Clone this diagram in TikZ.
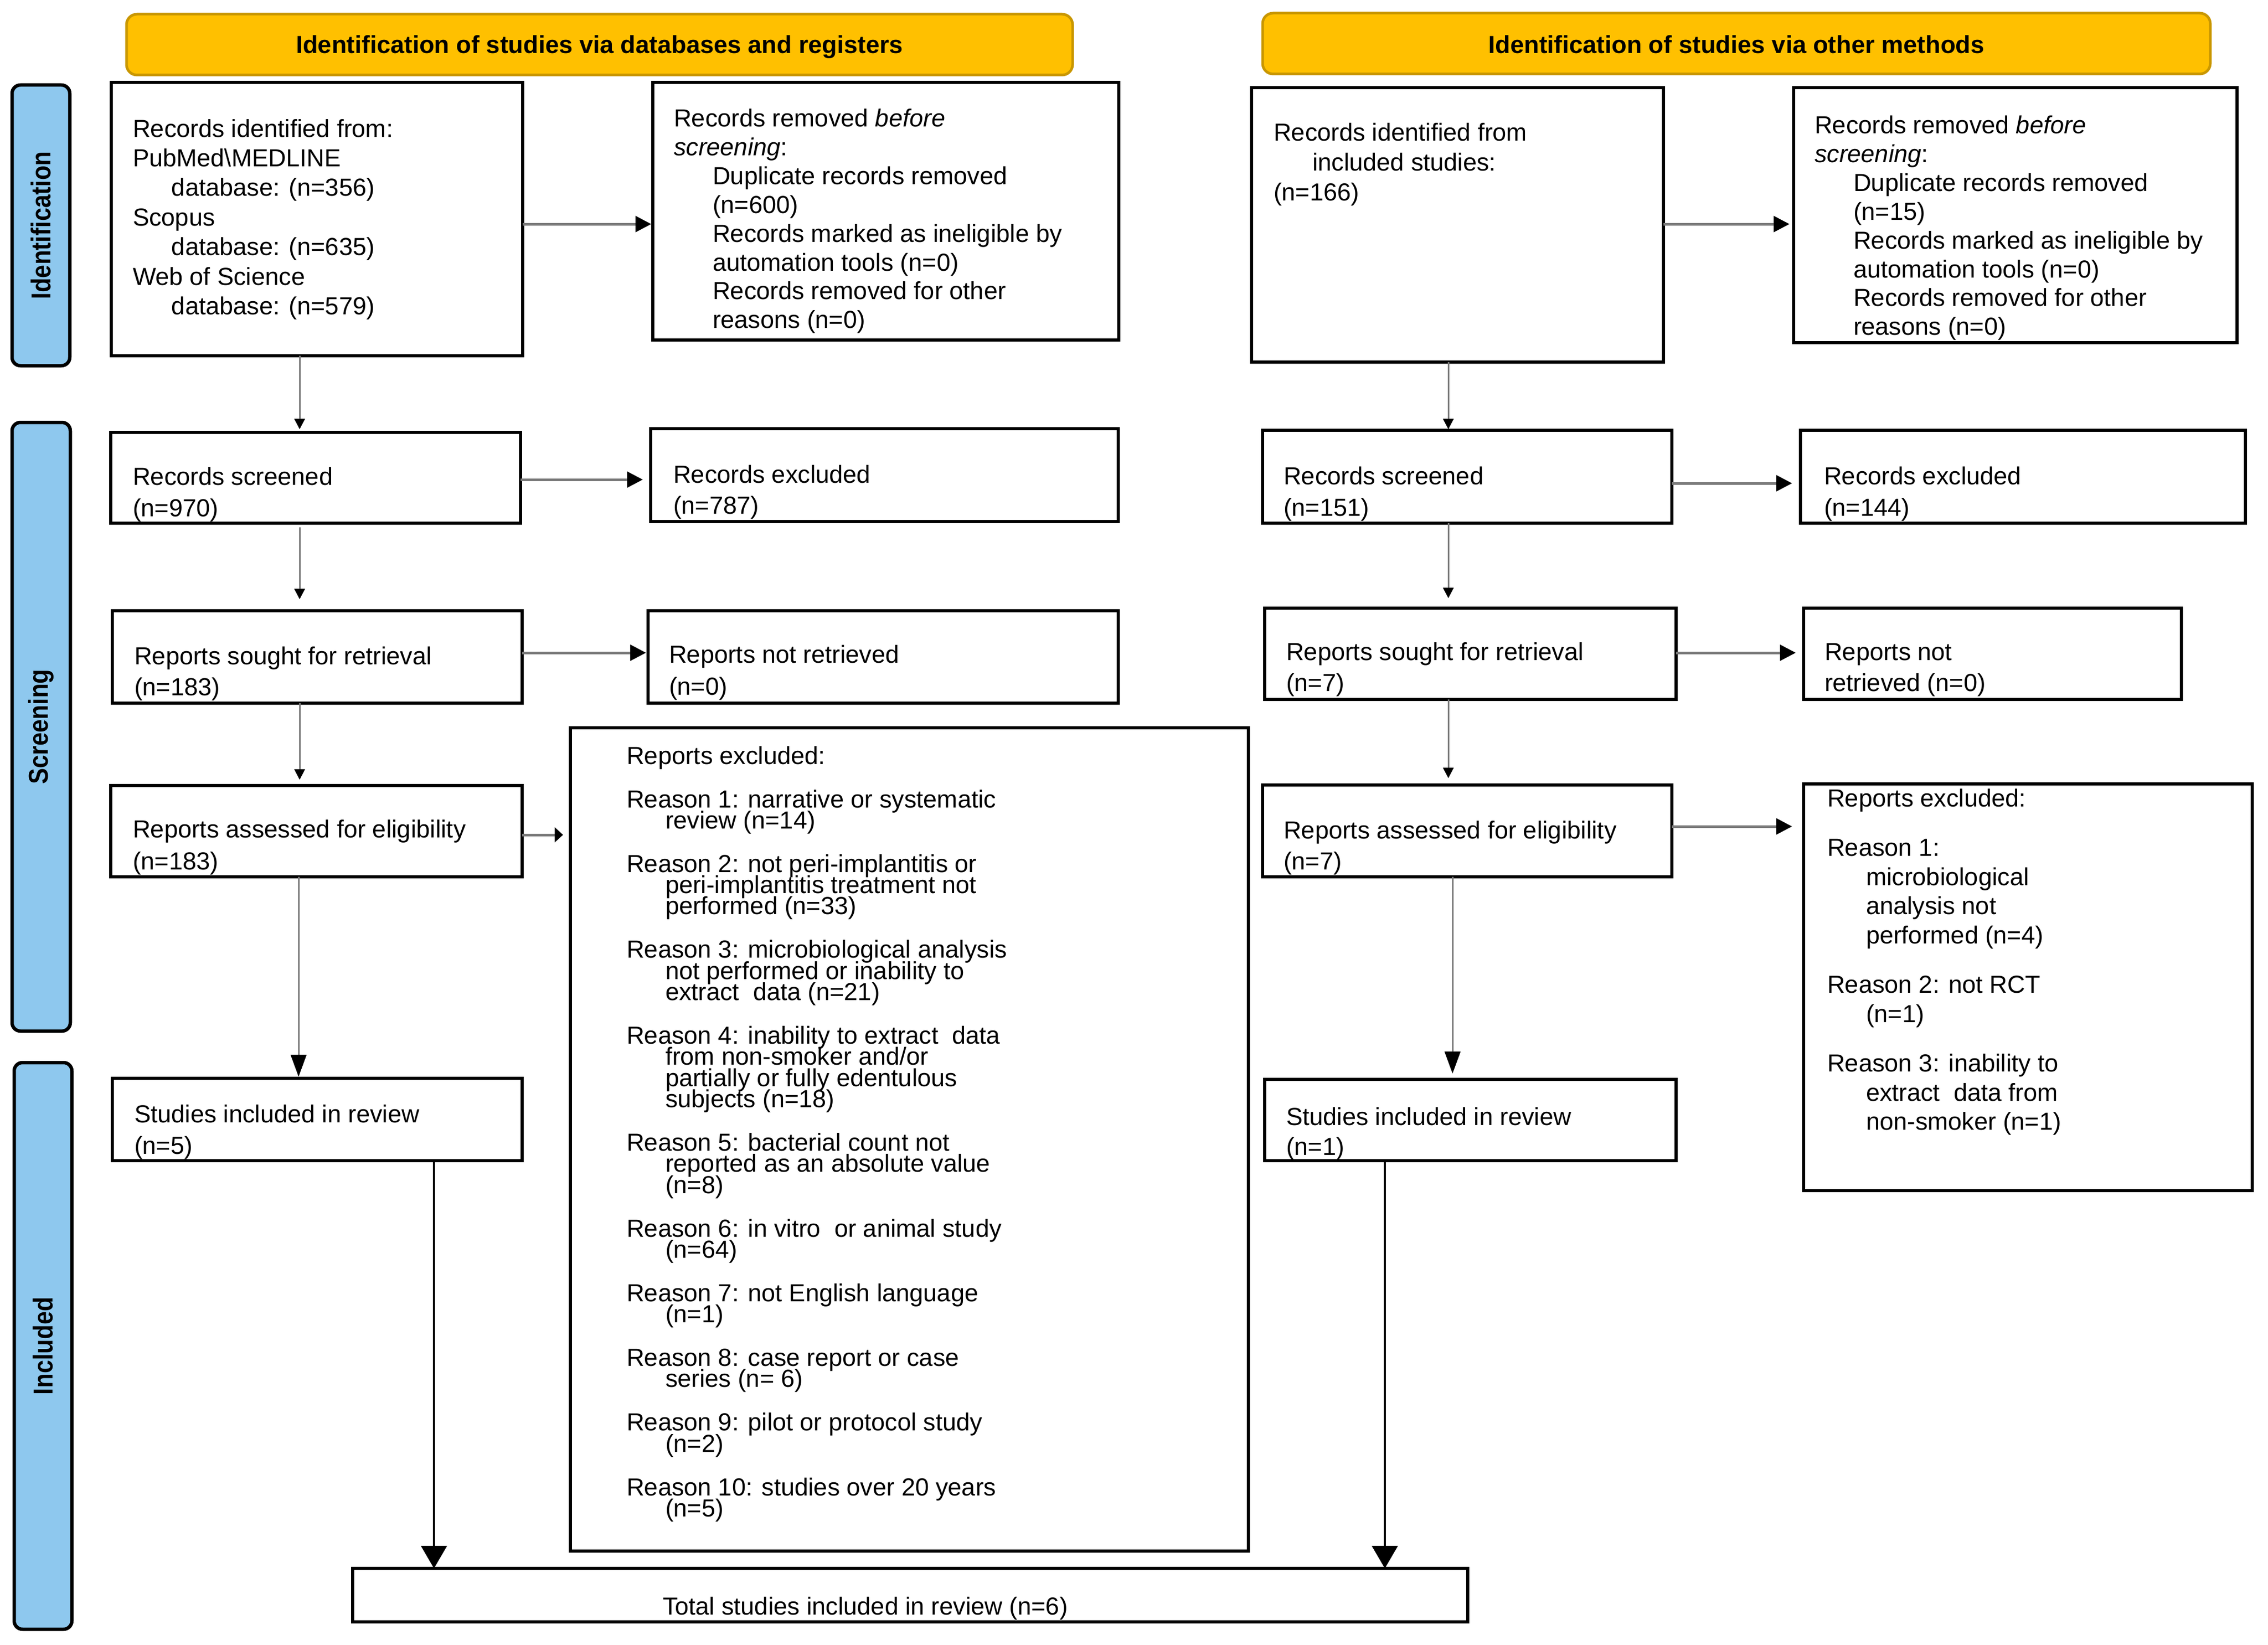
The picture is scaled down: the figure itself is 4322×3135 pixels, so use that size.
\documentclass[tikz,border=0pt]{standalone}
\usepackage{fontspec}
\setmainfont{Liberation Sans}
\newfontfamily\barfont{Liberation Sans}[FakeStretch=0.87]
\usetikzlibrary{fit,arrows.meta}
\definecolor{hdrfill}{HTML}{FFC000}
\definecolor{hdrline}{HTML}{C99700}
\definecolor{barfill}{HTML}{8EC8EE}
\definecolor{arrgray}{HTML}{7A7A7A}
\newcommand\bodysz[1]{\fontsize{13.37pt}{#1}\selectfont\lineskiplimit=-50pt\relax}
\newcommand\tstrut{\rule{0pt}{3.6mm}}
\newcommand\ind{\hspace*{7.4mm}}
\begin{document}
\begin{tikzpicture}[x=0.1mm,y=-0.1mm,
  box/.style={draw=black, line width=0.6mm, inner sep=0pt, outer sep=0pt},
  hdr/.style={draw=hdrline, fill=hdrfill, line width=0.5mm, rounded corners=2mm, inner sep=0pt},
  hdrtxt/.style={anchor=base, inner sep=0pt, font=\fontsize{13.37pt}{16pt}\selectfont\bfseries},
  bar/.style={draw=black, fill=barfill, line width=0.65mm, rounded corners=1.6mm, inner sep=0pt},
  bartxt/.style={rotate=90, font=\barfont\fontsize{14.8pt}{16pt}\selectfont\bfseries, inner sep=0pt},
  txt/.style={anchor=north west, align=left, inner sep=0pt, outer sep=0pt, font=\bodysz{#1}},
  harr/.style={draw=arrgray, line width=0.5mm, -{Triangle[length=3mm,width=3mm,color=black]}},
  sarr/.style={draw=arrgray, line width=0.5mm, -{Triangle[length=1.6mm,width=2.8mm,color=black]}},
  varr/.style={draw=arrgray, line width=0.3mm, -{Triangle[length=2mm,width=2mm,color=black]}},
  varrl/.style={draw=arrgray, line width=0.3mm, -{Triangle[length=4.2mm,width=3mm,color=black]}},
  barr/.style={draw=black, line width=0.4mm, -{Triangle[length=4.3mm,width=4.9mm]}}
]
\useasboundingbox (0,0) rectangle (4322,3135);

% headers
\node[hdr, fit={(241,27) (2044,143)}] (hL) {};
\node[hdr, fit={(2406,25) (4212,141)}] (hR) {};
\coordinate (hb) at (0,102);
\node[hdrtxt] (hLt) at (hL.center |- hb) {Identification of studies via databases and registers};
\node[hdrtxt] (hRt) at (hR.center |- hb) {Identification of studies via other methods};

% side bars
\node[bar, fit={(23,162) (133,697)}] (barI) {};
\node[bar, fit={(23,805) (134,1965)}] (barS) {};
\node[bar, fit={(27,2025) (137,3105)}] (barN) {};
\node[bartxt] (barIt) at (barI.center) {Identification};
\node[bartxt] (barSt) at (barS.center) {Screening};
\node[bartxt] (barNt) at (barN.center) {Included};

% left column boxes
\node[box, fit={(212,157) (996,678)}] (idL) {};
\node[box, fit={(1244,157) (2132,648)}] (rmL) {};
\node[box, fit={(211,824) (992,997)}] (scL) {};
\node[box, fit={(1240,817) (2131,994)}] (exL) {};
\node[box, fit={(214,1164) (995,1340)}] (srL) {};
\node[box, fit={(1235,1164) (2131,1340)}] (nrL) {};
\node[box, fit={(211,1497) (995,1671)}] (asL) {};
\node[box, fit={(1087,1387) (2379,2956)}] (rxL) {};
\node[box, fit={(214,2055) (995,2212)}] (stL) {};
\node[box, fit={(672,2989) (2797,3091)}] (tot) {};

% right column boxes
\node[box, fit={(2385,167) (3170,690)}] (idR) {};
\node[box, fit={(3418,167) (4263,653)}] (rmR) {};
\node[box, fit={(2406,820) (3186,997)}] (scR) {};
\node[box, fit={(3431,820) (4279,997)}] (exR) {};
\node[box, fit={(2410,1159) (3194,1333)}] (srR) {};
\node[box, fit={(3437,1159) (4157,1333)}] (nrR) {};
\node[box, fit={(2406,1496) (3186,1671)}] (asR) {};
\node[box, fit={(3437,1494) (4292,2269)}] (rxR) {};
\node[box, fit={(2410,2057) (3194,2212)}] (stR) {};

% texts left
\node[txt=5.65mm] (idLt) at (253,225) {\tstrut Records identified from:\\
PubMed\textbackslash MEDLINE\\
\ind database: (n=356)\\
Scopus\\
\ind database: (n=635)\\
Web of Science\\
\ind database: (n=579)};
\node[txt=5.5mm] (rmLt) at (1284,205) {\tstrut Records removed \textit{before}\\
\textit{screening}:\\
\ind Duplicate records removed\\
\ind (n=600)\\
\ind Records marked as ineligible by\\
\ind automation tools (n=0)\\
\ind Records removed for other\\
\ind reasons (n=0)};
\node[txt=6mm] (scLt) at (253,888) {\tstrut Records screened\\(n=970)};
\node[txt=5.9mm] (exLt) at (1283,884) {\tstrut Records excluded\\(n=787)};
\node[txt=5.9mm] (srLt) at (256,1230) {\tstrut Reports sought for retrieval\\(n=183)};
\node[txt=6.1mm] (nrLt) at (1275,1227) {\tstrut Reports not retrieved\\(n=0)};
\node[txt=6.1mm] (asLt) at (253,1560) {\tstrut Reports assessed for eligibility\\(n=183)};
\node[txt=4.03mm] (rxLt) at (1194,1420) {\tstrut Reports excluded:\\[4.27mm]
Reason 1: narrative or systematic\\
\ind review (n=14)\\[4.27mm]
Reason 2: not peri-implantitis or\\
\ind peri-implantitis treatment not\\
\ind performed (n=33)\\[4.27mm]
Reason 3: microbiological analysis\\
\ind not performed or inability to\\
\ind extract\ \ data (n=21)\\[4.27mm]
Reason 4: inability to extract\ \ data\\
\ind from non-smoker and/or\\
\ind partially or fully edentulous\\
\ind subjects (n=18)\\[4.27mm]
Reason 5: bacterial count not\\
\ind reported as an absolute value\\
\ind (n=8)\\[4.27mm]
Reason 6: in vitro\ \ or animal study\\
\ind (n=64)\\[4.27mm]
Reason 7: not English language\\
\ind (n=1)\\[4.27mm]
Reason 8: case report or case\\
\ind series (n= 6)\\[4.27mm]
Reason 9: pilot or protocol study\\
\ind (n=2)\\[4.27mm]
Reason 10: studies over 20 years\\
\ind (n=5)};
\node[txt=6mm] (stLt) at (256,2103) {\tstrut Studies included in review\\(n=5)};
\node[txt=5mm] (tott) at (1263,3041) {\tstrut Total studies included in review (n=6)};

% texts right
\node[txt=5.7mm] (idRt) at (2427,232) {\tstrut Records identified from\\
\ind included studies:\\
(n=166)};
\node[txt=5.5mm] (rmRt) at (3458,218) {\tstrut Records removed \textit{before}\\
\textit{screening}:\\
\ind Duplicate records removed\\
\ind (n=15)\\
\ind Records marked as ineligible by\\
\ind automation tools (n=0)\\
\ind Records removed for other\\
\ind reasons (n=0)};
\node[txt=6mm] (scRt) at (2446,887) {\tstrut Records screened\\(n=151)};
\node[txt=6mm] (exRt) at (3476,887) {\tstrut Records excluded\\(n=144)};
\node[txt=5.9mm] (srRt) at (2451,1222) {\tstrut Reports sought for retrieval\\(n=7)};
\node[txt=5.9mm] (nrRt) at (3477,1222) {\tstrut Reports not\\retrieved (n=0)};
\node[txt=5.9mm] (asRt) at (2446,1562) {\tstrut Reports assessed for eligibility\\(n=7)};
\node[txt=5.55mm] (rxRt) at (3482,1501) {\tstrut Reports excluded:\\[3.9mm]
Reason 1:\\
\ind microbiological\\
\ind analysis not\\
\ind performed (n=4)\\[3.9mm]
Reason 2: not RCT\\
\ind (n=1)\\[3.9mm]
Reason 3: inability to\\
\ind extract\ \ data from\\
\ind non-smoker (n=1)};
\node[txt=5.7mm] (stRt) at (2451,2108) {\tstrut Studies included in review\\(n=1)};

% connector guide coordinates
\coordinate (vL) at (571,0);
\coordinate (vL2) at (569,0);
\coordinate (vR) at (2760,0);
\coordinate (vR2) at (2768,0);
\coordinate (bL) at (827,0);
\coordinate (bR) at (2639,0);
\coordinate (h1) at (0,427);
\coordinate (h2) at (0,914);
\coordinate (h3) at (0,1244);
\coordinate (h4) at (0,1591);
\coordinate (h2r) at (0,921);
\coordinate (h4r) at (0,1575);

% left vertical arrows
\draw[varr, shorten >=0.6mm] (idL.south -| vL) -- (scL.north -| vL);
\draw[varr, shorten <=0.8mm, shorten >=2.2mm] (scL.south -| vL) -- (srL.north -| vL);
\draw[varr, shorten >=1.1mm] (srL.south -| vL) -- (asL.north -| vL);
\draw[varrl, shorten >=0.3mm] (asL.south -| vL2) -- (stL.north -| vL2);
\draw[barr] (stL.south -| bL) -- (tot.north -| bL);

% right vertical arrows
\draw[varr, shorten >=0.2mm] (idR.south -| vR) -- (scR.north -| vR);
\draw[varr, shorten >=1.9mm] (scR.south -| vR) -- (srR.north -| vR);
\draw[varr, shorten >=1.3mm] (srR.south -| vR) -- (asR.north -| vR);
\draw[varrl, shorten >=1.1mm] (asR.south -| vR2) -- (stR.north -| vR2);
\draw[barr] (stR.south -| bR) -- (tot.north -| bR);

% horizontal arrows left
\draw[harr, shorten >=0.3mm] (idL.east |- h1) -- (rmL.west |- h1);
\draw[harr, shorten >=1.5mm] (scL.east |- h2) -- (exL.west |- h2);
\draw[harr, shorten >=0.4mm] (srL.east |- h3) -- (nrL.west |- h3);
\draw[sarr, shorten >=1.4mm] (asL.east |- h4) -- (rxL.west |- h4);

% horizontal arrows right
\draw[harr, shorten >=0.8mm] (idR.east |- h1) -- (rmR.west |- h1);
\draw[harr, shorten >=1.6mm] (scR.east |- h2r) -- (exR.west |- h2r);
\draw[harr, shorten >=1.5mm] (srR.east |- h3) -- (nrR.west |- h3);
\draw[harr, shorten >=2.2mm] (asR.east |- h4r) -- (rxR.west |- h4r);
\end{tikzpicture}
\end{document}
